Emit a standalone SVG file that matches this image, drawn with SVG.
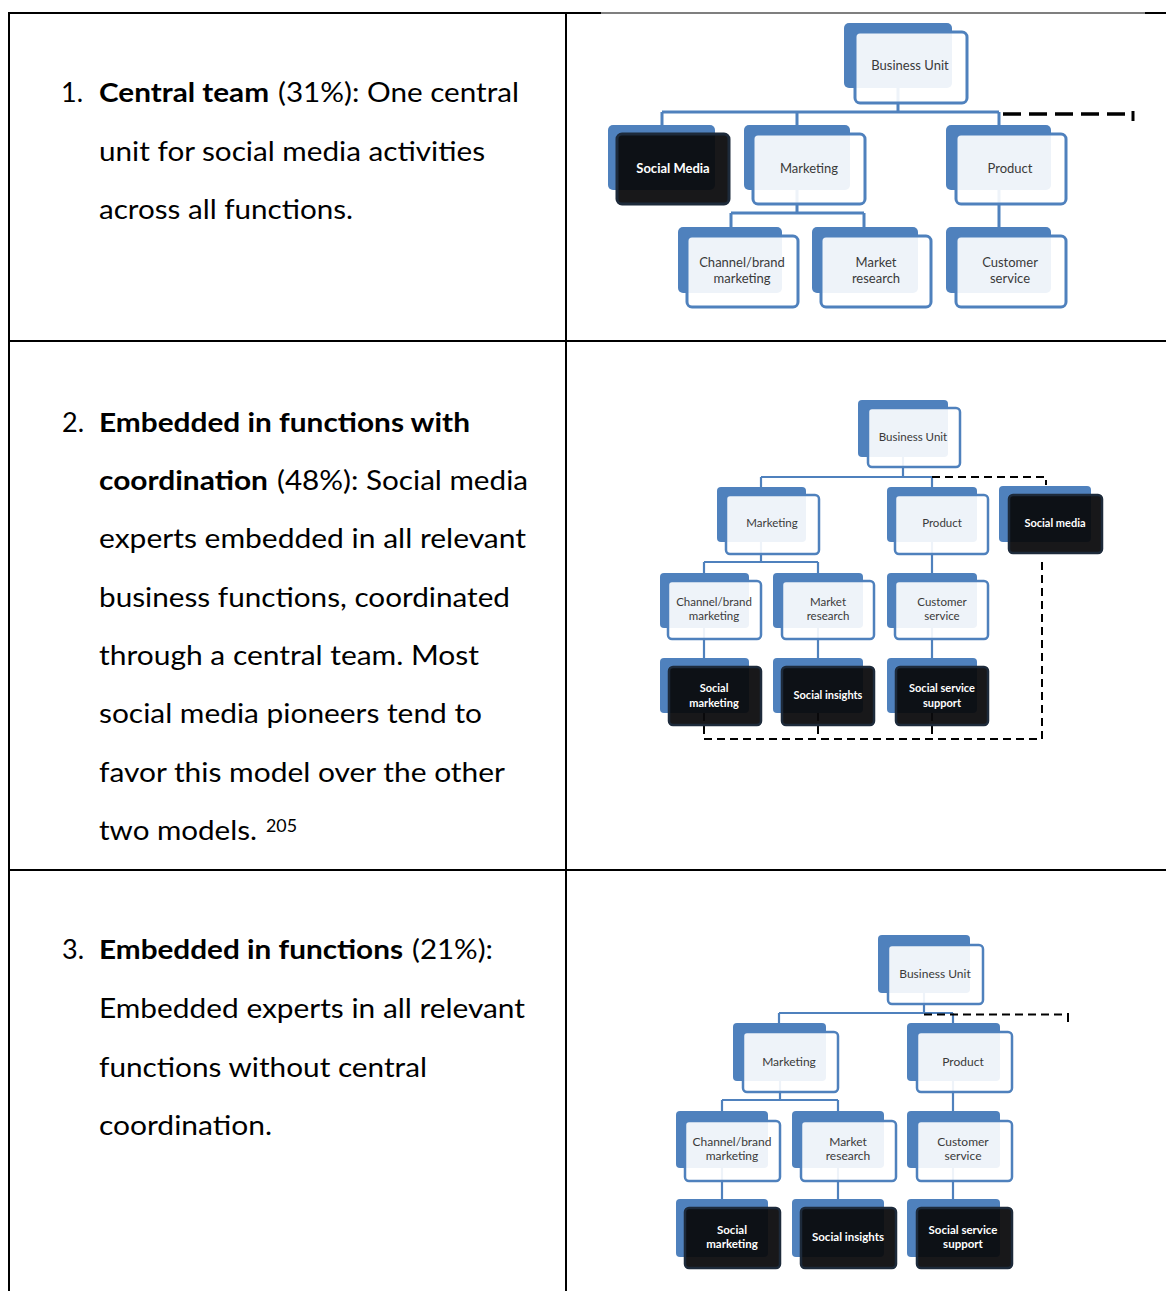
<svg xmlns="http://www.w3.org/2000/svg" width="1166" height="1291" viewBox="0 0 1166 1291">
<style>
.b{font-family:Lato,"Noto Sans","Liberation Sans",sans-serif;font-size:27px;fill:#000}
.bb{font-weight:bold}
.ln{stroke:#000;stroke-width:2;fill:none}
.bk{fill:#4f81bd}
.fw{fill:#fff;fill-opacity:0.9;stroke:#4f81bd}
.fb{fill:#0a0a0c;fill-opacity:0.94;stroke:#1d2a3a}
.t1{font-family:Lato,"Noto Sans","Liberation Sans",sans-serif;fill:#3a3a3a;text-anchor:middle}
.tw{font-family:Lato,"Noto Sans","Liberation Sans",sans-serif;fill:#fff;font-weight:bold;text-anchor:middle}
.c{stroke:#4f81bd;fill:none}
.d{stroke:#000;fill:none}
</style>
<rect width="1166" height="1291" fill="#fff"/>

<g id="table">
<path class="ln" d="M8,13 H601"/>
<path stroke="#000" stroke-width="1.2" d="M601,13 H1145"/>
<path class="ln" d="M1145,13 H1166"/>
<path class="ln" d="M9,12 V1291"/>
<path class="ln" d="M566,12 V1291"/>
<path class="ln" d="M8,341 H1166"/>
<path class="ln" d="M8,870 H1166"/>
</g>

<g id="text-row1">
<text class="b" x="61" y="102">1.</text>
<text class="b bb" x="99" y="102" textLength="170" lengthAdjust="spacingAndGlyphs">Central team</text>
<text class="b" x="278" y="102" textLength="241" lengthAdjust="spacingAndGlyphs">(31%): One central</text>
<text class="b" x="99" y="160.5" textLength="386" lengthAdjust="spacingAndGlyphs">unit for social media activities</text>
<text class="b" x="99" y="219" textLength="254" lengthAdjust="spacingAndGlyphs">across all functions.</text>
</g>

<g id="text-row2">
<text class="b" x="62" y="431.7">2.</text>
<text class="b bb" x="99" y="431.7" textLength="371" lengthAdjust="spacingAndGlyphs">Embedded in functions with</text>
<text class="b bb" x="99" y="490" textLength="169" lengthAdjust="spacingAndGlyphs">coordination</text>
<text class="b" x="277" y="490" textLength="251" lengthAdjust="spacingAndGlyphs">(48%): Social media</text>
<text class="b" x="99" y="548.3" textLength="427" lengthAdjust="spacingAndGlyphs">experts embedded in all relevant</text>
<text class="b" x="99" y="606.7" textLength="411" lengthAdjust="spacingAndGlyphs">business functions, coordinated</text>
<text class="b" x="99" y="665" textLength="380" lengthAdjust="spacingAndGlyphs">through a central team. Most</text>
<text class="b" x="99" y="723.3" textLength="383" lengthAdjust="spacingAndGlyphs">social media pioneers tend to</text>
<text class="b" x="99" y="781.7" textLength="406" lengthAdjust="spacingAndGlyphs">favor this model over the other</text>
<text class="b" x="99" y="840" textLength="158" lengthAdjust="spacingAndGlyphs">two models.</text>
<text class="b" x="266" y="832" style="font-size:18px" textLength="31" lengthAdjust="spacingAndGlyphs">205</text>
</g>

<g id="text-row3">
<text class="b" x="62" y="959.3">3.</text>
<text class="b bb" x="99" y="959.3" textLength="304" lengthAdjust="spacingAndGlyphs">Embedded in functions</text>
<text class="b" x="412" y="959.3" textLength="81" lengthAdjust="spacingAndGlyphs">(21%):</text>
<text class="b" x="99" y="1017.7" textLength="426" lengthAdjust="spacingAndGlyphs">Embedded experts in all relevant</text>
<text class="b" x="99" y="1076.7" textLength="328" lengthAdjust="spacingAndGlyphs">functions without central</text>
<text class="b" x="99" y="1135" textLength="173" lengthAdjust="spacingAndGlyphs">coordination.</text>
</g>

<!-- Chart 1 -->
<g id="connectors-1">
<path class="c" stroke-width="3" d="M898,88 V112 M662,112 H999 M662,112 V125 M797,112 V125 M999,112 V125 M797,190 V213 M731,213 H864 M731,213 V227 M864,213 V227 M999,190 V227"/>
<path class="d" stroke-width="3.5" stroke-dasharray="18 8" d="M1003,114 H1129"/>
<path class="d" stroke-width="3" d="M1133,111 V121"/>
</g>
<g id="c1-business-unit"><rect class="bk" x="844" y="23" width="108" height="65" rx="5"/><rect class="fw" stroke-width="3" x="855" y="32" width="112" height="71" rx="5"/><text class="t1" x="910" y="69.5" font-size="13">Business Unit</text></g>
<g id="c1-social-media"><rect class="bk" x="608" y="125" width="107" height="65" rx="5"/><rect class="fb" stroke-width="3" x="617" y="134" width="112" height="70" rx="5"/><text class="tw" x="673" y="172.5" font-size="13">Social Media</text></g>
<g id="c1-marketing"><rect class="bk" x="744" y="125" width="106" height="65" rx="5"/><rect class="fw" stroke-width="3" x="753" y="134" width="112" height="70" rx="5"/><text class="t1" x="809" y="172.5" font-size="13">Marketing</text></g>
<g id="c1-product"><rect class="bk" x="946" y="125" width="105" height="65" rx="5"/><rect class="fw" stroke-width="3" x="956" y="134" width="110" height="70" rx="5"/><text class="t1" x="1010" y="172.5" font-size="13">Product</text></g>
<g id="c1-channel"><rect class="bk" x="678" y="227" width="104" height="66" rx="5"/><rect class="fw" stroke-width="3" x="687" y="236" width="111" height="71" rx="5"/><text class="t1" x="742" y="266.5" font-size="13">Channel/brand</text><text class="t1" x="742" y="282.5" font-size="13">marketing</text></g>
<g id="c1-market-research"><rect class="bk" x="812" y="227" width="106" height="66" rx="5"/><rect class="fw" stroke-width="3" x="821" y="236" width="110" height="71" rx="5"/><text class="t1" x="876" y="266.5" font-size="13">Market</text><text class="t1" x="876" y="282.5" font-size="13">research</text></g>
<g id="c1-customer-service"><rect class="bk" x="946" y="227" width="105" height="66" rx="5"/><rect class="fw" stroke-width="3" x="956" y="236" width="110" height="71" rx="5"/><text class="t1" x="1010" y="266.5" font-size="13">Customer</text><text class="t1" x="1010" y="282.5" font-size="13">service</text></g>

<!-- Chart 2 -->
<g id="connectors-2">
<path class="c" stroke-width="2.2" d="M903,457 V477 M761,477 H932 M761,477 V487 M932,477 V487 M761,542 V562 M704,562 H818 M704,562 V573 M818,562 V573 M932,542 V573 M704,628 V658 M818,628 V658 M932,628 V658"/>
<path class="d" stroke-width="2" stroke-dasharray="8 5" d="M932,477 H1046 V485"/>
<path class="d" stroke-width="2" stroke-dasharray="8 5" d="M704,713 V739 H1042 V561 M818,713 V739 M932,713 V739"/>
</g>
<g id="c2-business-unit"><rect class="bk" x="858" y="400" width="90" height="57" rx="4"/><rect class="fw" stroke-width="2.5" x="868" y="408" width="92" height="59" rx="4"/><text class="t1" x="913" y="441" font-size="11.5">Business Unit</text></g>
<g id="c2-marketing"><rect class="bk" x="717" y="487" width="89" height="55" rx="4"/><rect class="fw" stroke-width="2.5" x="726" y="495" width="93" height="59" rx="4"/><text class="t1" x="772" y="527" font-size="11.5">Marketing</text></g>
<g id="c2-product"><rect class="bk" x="887" y="487" width="90" height="55" rx="4"/><rect class="fw" stroke-width="2.5" x="895" y="495" width="93" height="59" rx="4"/><text class="t1" x="942" y="527" font-size="11.5">Product</text></g>
<g id="c2-social-media"><rect class="bk" x="999" y="486" width="92" height="56" rx="4"/><rect class="fb" stroke-width="2.5" x="1009" y="495" width="93" height="58" rx="4"/><text class="tw" x="1055" y="527" font-size="11">Social media</text></g>
<g id="c2-channel"><rect class="bk" x="660" y="573" width="89" height="55" rx="4"/><rect class="fw" stroke-width="2.5" x="668" y="581" width="93" height="58" rx="4"/><text class="t1" x="714" y="606" font-size="11.5">Channel/brand</text><text class="t1" x="714" y="620" font-size="11.5">marketing</text></g>
<g id="c2-market-research"><rect class="bk" x="773" y="573" width="90" height="55" rx="4"/><rect class="fw" stroke-width="2.5" x="782" y="581" width="92" height="58" rx="4"/><text class="t1" x="828" y="606" font-size="11.5">Market</text><text class="t1" x="828" y="620" font-size="11.5">research</text></g>
<g id="c2-customer-service"><rect class="bk" x="887" y="573" width="90" height="55" rx="4"/><rect class="fw" stroke-width="2.5" x="895" y="581" width="93" height="58" rx="4"/><text class="t1" x="942" y="606" font-size="11.5">Customer</text><text class="t1" x="942" y="620" font-size="11.5">service</text></g>
<g id="c2-social-marketing"><rect class="bk" x="660" y="658" width="89" height="55" rx="4"/><rect class="fb" stroke-width="2.5" x="669" y="667" width="92" height="58" rx="4"/><text class="tw" x="714" y="692" font-size="11">Social</text><text class="tw" x="714" y="707" font-size="11">marketing</text></g>
<g id="c2-social-insights"><rect class="bk" x="773" y="658" width="90" height="55" rx="4"/><rect class="fb" stroke-width="2.5" x="782" y="667" width="92" height="58" rx="4"/><text class="tw" x="828" y="699" font-size="11">Social insights</text></g>
<g id="c2-social-service"><rect class="bk" x="887" y="658" width="90" height="55" rx="4"/><rect class="fb" stroke-width="2.5" x="896" y="667" width="92" height="58" rx="4"/><text class="tw" x="942" y="692" font-size="11">Social service</text><text class="tw" x="942" y="707" font-size="11">support</text></g>

<!-- Chart 3 -->
<g id="connectors-3">
<path class="c" stroke-width="2.2" d="M924,993 V1013 M779,1013 H953 M779,1013 V1023 M953,1013 V1023 M780,1081 V1100 M722,1100 H838 M722,1100 V1111 M838,1100 V1111 M953,1081 V1111 M722,1168 V1199 M838,1168 V1199 M953,1168 V1199"/>
<path class="d" stroke-width="2" stroke-dasharray="8 5" d="M924,1014.5 H1064"/>
<path class="d" stroke-width="2" d="M1068,1013 V1022"/>
</g>
<g id="c3-business-unit"><rect class="bk" x="878" y="935" width="92" height="58" rx="4"/><rect class="fw" stroke-width="2.5" x="888" y="945" width="95" height="59" rx="4"/><text class="t1" x="935" y="978" font-size="12">Business Unit</text></g>
<g id="c3-marketing"><rect class="bk" x="733" y="1023" width="93" height="58" rx="4"/><rect class="fw" stroke-width="2.5" x="743" y="1032" width="95" height="60" rx="4"/><text class="t1" x="789" y="1066" font-size="12">Marketing</text></g>
<g id="c3-product"><rect class="bk" x="907" y="1023" width="93" height="58" rx="4"/><rect class="fw" stroke-width="2.5" x="917" y="1032" width="95" height="60" rx="4"/><text class="t1" x="963" y="1066" font-size="12">Product</text></g>
<g id="c3-channel"><rect class="bk" x="676" y="1111" width="92" height="57" rx="4"/><rect class="fw" stroke-width="2.5" x="685" y="1121" width="95" height="60" rx="4"/><text class="t1" x="732" y="1146" font-size="12">Channel/brand</text><text class="t1" x="732" y="1160" font-size="12">marketing</text></g>
<g id="c3-market-research"><rect class="bk" x="792" y="1111" width="92" height="57" rx="4"/><rect class="fw" stroke-width="2.5" x="801" y="1121" width="95" height="60" rx="4"/><text class="t1" x="848" y="1146" font-size="12">Market</text><text class="t1" x="848" y="1160" font-size="12">research</text></g>
<g id="c3-customer-service"><rect class="bk" x="907" y="1111" width="93" height="57" rx="4"/><rect class="fw" stroke-width="2.5" x="917" y="1121" width="95" height="60" rx="4"/><text class="t1" x="963" y="1146" font-size="12">Customer</text><text class="t1" x="963" y="1160" font-size="12">service</text></g>
<g id="c3-social-marketing"><rect class="bk" x="676" y="1199" width="92" height="58" rx="4"/><rect class="fb" stroke-width="2.5" x="685" y="1208" width="95" height="60" rx="4"/><text class="tw" x="732" y="1234" font-size="11.5" font-weight="normal">Social</text><text class="tw" x="732" y="1248" font-size="11.5">marketing</text></g>
<g id="c3-social-insights"><rect class="bk" x="792" y="1199" width="92" height="58" rx="4"/><rect class="fb" stroke-width="2.5" x="801" y="1208" width="95" height="60" rx="4"/><text class="tw" x="848" y="1241" font-size="11.5">Social insights</text></g>
<g id="c3-social-service"><rect class="bk" x="907" y="1199" width="93" height="58" rx="4"/><rect class="fb" stroke-width="2.5" x="917" y="1208" width="95" height="60" rx="4"/><text class="tw" x="963" y="1234" font-size="11.5">Social service</text><text class="tw" x="963" y="1248" font-size="11.5">support</text></g>
</svg>
